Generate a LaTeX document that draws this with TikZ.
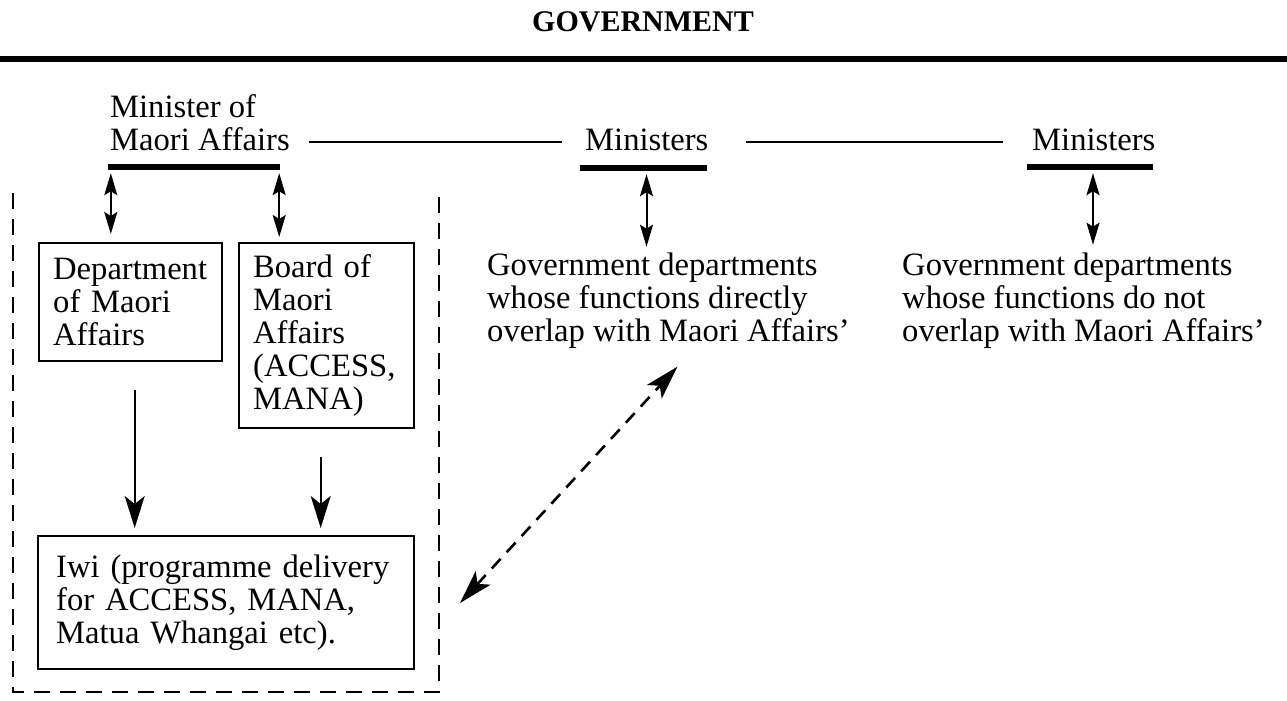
\documentclass[tikz,border=0pt]{standalone}
\usepackage{fontspec}
\setmainfont{Liberation Serif}
\usetikzlibrary{arrows.meta,positioning}

\begin{document}
\begin{tikzpicture}[x=1pt,y=-1pt,
  txt/.style={font=\fontsize{32.6}{33}\selectfont, inner sep=0pt, align=left},
  box/.style={txt, draw, line width=2.4pt, inner ysep=2pt, anchor=north west},
  bar/.style={fill, inner sep=0pt, minimum height=6pt},
  tie/.style={line width=2pt},
  twoway/.style={line width=2pt, {Stealth[length=22pt,width=13pt,inset=4pt]}-{Stealth[length=22pt,width=13pt,inset=4pt]}},
  feed/.style={line width=2.2pt, -{Stealth[length=32pt,width=20pt,inset=8pt]}},
  linkdash/.style={line width=2.6pt, dash pattern=on 13pt off 9pt, {Stealth[length=34pt,width=20pt,inset=8pt]}-{Stealth[length=34pt,width=20pt,inset=8pt]}},
  frame/.style={line width=2.4pt, dash pattern=on 16pt off 10pt}]
	\useasboundingbox (0,0) rectangle (1287,701);
	% tieu de va duong ke
	\node[font=\bfseries\fontsize{30}{30}\selectfont, anchor=base] (gov) at (643,32) {GOVERNMENT};
	\draw[line width=6pt] (0,59) -- (1287,59);
	% cac bo truong
	\node[txt, anchor=north west] (mma) at (110,94.7) {Minister of\\Maori Affairs};
	\node[txt, anchor=base west] (mina) at (585,150) {Ministers};
	\node[txt, anchor=base west] (minb) at (1032,150) {Ministers};
	\node[bar, minimum width=172] (bara) at (194,167) {};
	\node[bar, minimum width=127] (barb) at (643.5,168) {};
	\node[bar, minimum width=126] (barc) at (1090,167) {};
	\draw[tie] ([xshift=19pt,yshift=-3pt]mma.east |- mina.west) -- ([xshift=-23pt,yshift=-3pt]mina.west);
	\draw[tie] ([xshift=37pt,yshift=-3pt]mina.east) -- ([xshift=-29pt,yshift=-3pt]minb.west);
	% cac hop
	\node[box, inner xsep=14pt, text width=155pt, minimum height=118pt] (dept) at (38,242) {Department\\of Maori\\Affairs};
	\node[box, inner xsep=14pt, text width=147pt, minimum height=185pt] (board) at (238,242) {Board of\\Maori\\Affairs\\(ACCESS,\\MANA)};
	\node[box, inner xsep=18pt, text width=340pt, minimum height=133pt] (iwi) at (37,535) {Iwi (programme delivery\\for ACCESS, MANA,\\Matua Whangai etc).};
	\node[txt, anchor=north west] (gda) at (487,252.7) {Government departments\\whose functions directly\\overlap with Maori Affairs'};
	\node[txt, anchor=north west] (gdb) at (902,252.7) {Government departments\\whose functions do not\\overlap with Maori Affairs'};
	% mui ten
	\draw[twoway, shorten <=3pt, shorten >=8pt] ([xshift=3pt]bara.south west) -- ([xshift=3pt]bara.south west |- dept.north);
	\draw[twoway, shorten <=3pt, shorten >=5pt] ([xshift=-1pt]bara.south east) -- ([xshift=-1pt]bara.south east |- board.north);
	\draw[twoway, shorten <=3pt, shorten >=6pt] ([xshift=3pt]barb.south) -- ([xshift=3pt]barb.south |- gda.north);
	\draw[twoway, shorten <=3pt, shorten >=8pt] ([xshift=3pt]barc.south) -- ([xshift=3pt]barc.south |- gdb.north);
	\draw[feed, shorten <=28pt, shorten >=7pt] ([xshift=4pt]dept.south) -- ([xshift=4pt]dept.south |- iwi.north);
	\draw[feed, shorten <=28pt, shorten >=7pt] ([xshift=-6pt]board.south) -- ([xshift=-6pt]board.south |- iwi.north);
	% khung net dut
	\draw[frame] (13,193) -- (13,692) -- (439,692) -- (439,193);
	\coordinate (toiwi) at (460,603);
	\draw[linkdash] (toiwi) -- ([xshift=9pt,yshift=-18pt]gda.south);
\end{tikzpicture}
\end{document}
